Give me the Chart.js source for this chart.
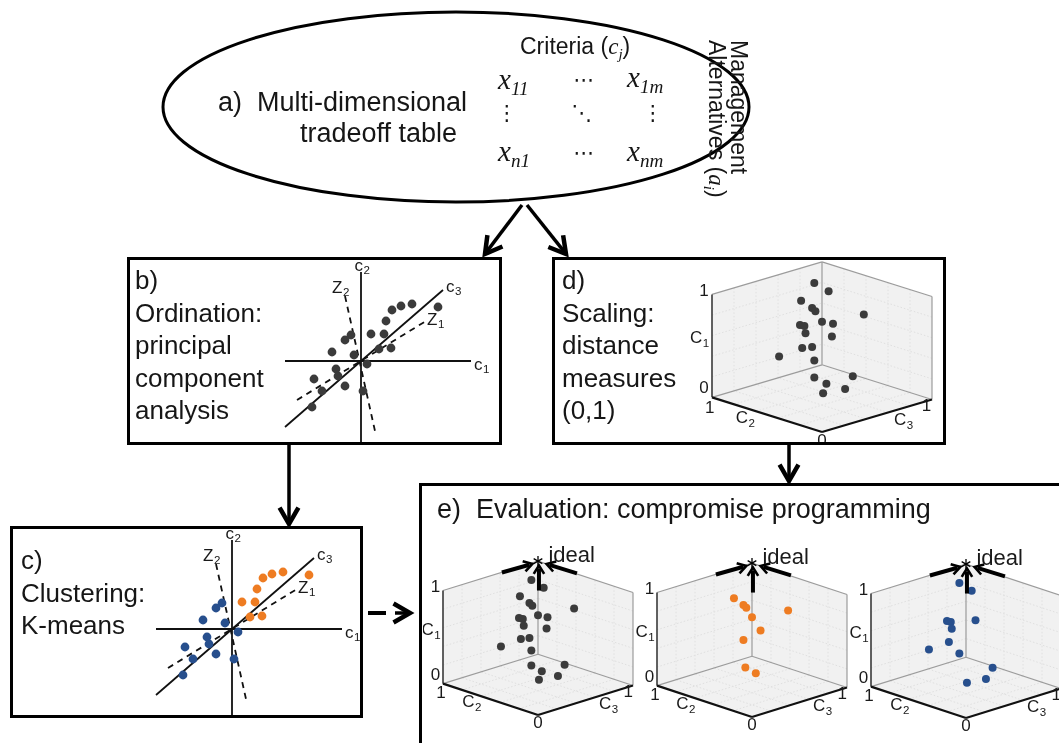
<!DOCTYPE html>
<html>
<head>
<meta charset="utf-8">
<title>Tradeoff analysis workflow</title>
<script src="https://cdn.jsdelivr.net/npm/chart.js@4.4.1/dist/chart.umd.min.js"></script>
<style>
  body { margin: 0; background: #fff; }
  #page { position: relative; width: 1059px; height: 743px; overflow: hidden; color: #161616;
          font-family: "Liberation Sans", Arial, sans-serif; }
  #page canvas { position: absolute; }
  #frame { position: absolute; left: 0; top: 0; }
  .txt { position: absolute; white-space: nowrap; font-size: 26px; line-height: 32.5px; }
  .mx { position: absolute; white-space: nowrap; font-family: "Liberation Serif", "DejaVu Serif", serif;
        font-style: italic; font-size: 29px; line-height: 34px; }
  .mx sub, .txt sub { font-size: 0.66em; vertical-align: -0.3em; line-height: 0; }
  .dots { position: absolute; font-family: "DejaVu Sans", sans-serif; font-size: 21px; line-height: 24px;
          transform: translate(-50%, -50%); }
  .it { font-family: "Liberation Serif", "DejaVu Serif", serif; font-style: italic; }
</style>
</head>
<body>
<div id="page">
  <canvas id="chartB"></canvas>
  <canvas id="chartC"></canvas>
  <canvas id="chartD"></canvas>
  <canvas id="chartE1"></canvas>
  <canvas id="chartE2"></canvas>
  <canvas id="chartE3"></canvas>

  <svg id="frame" width="1059" height="743">
    <ellipse cx="456" cy="107" rx="293" ry="95" fill="none" stroke="#000" stroke-width="3"/>
    <rect x="128.5" y="258.5" width="372" height="185" fill="none" stroke="#000" stroke-width="3"/>
    <rect x="553.5" y="258.5" width="391" height="185" fill="none" stroke="#000" stroke-width="3"/>
    <rect x="11.5" y="527.5" width="350" height="189" fill="none" stroke="#000" stroke-width="3"/>
    <rect x="420.5" y="484.5" width="700" height="300" fill="none" stroke="#000" stroke-width="3"/>
  </svg>

  <!-- a) -->
  <div class="txt" style="left:218px;top:86px;font-size:27px">a)&nbsp; Multi-dimensional</div>
  <div class="txt" style="left:300px;top:117px;font-size:27px">tradeoff table</div>
  <div class="txt" style="left:520px;top:30px;font-size:23px">Criteria (<span class="it">c<sub>j</sub></span>)</div>
  <div class="mx" style="left:498px;top:62px">x<sub>11</sub></div>
  <div class="mx" style="left:627px;top:60px">x<sub>1m</sub></div>
  <div class="mx" style="left:498px;top:134px">x<sub>n1</sub></div>
  <div class="mx" style="left:627px;top:134px">x<sub>nm</sub></div>
  <div class="dots" style="left:584px;top:80px">⋯</div>
  <div class="dots" style="left:584px;top:153px">⋯</div>
  <div class="dots" style="left:507px;top:113px">⋮</div>
  <div class="dots" style="left:582px;top:113px">⋱</div>
  <div class="dots" style="left:653px;top:113px">⋮</div>
  <div class="txt" style="left:750px;top:40px;font-size:23px;line-height:22px;transform-origin:0 0;transform:rotate(90deg)">Management<br>Alternatives (<span class="it">a<sub>i</sub></span>)</div>

  <!-- b) c) d) e) -->
  <div class="txt" style="left:135px;top:264px">b)<br>Ordination:<br>principal<br>component<br>analysis</div>
  <div class="txt" style="left:562px;top:264px">d)<br>Scaling:<br>distance<br>measures<br>(0,1)</div>
  <div class="txt" style="left:21px;top:544px">c)<br>Clustering:<br>K-means</div>
  <div class="txt" style="left:437px;top:493px;font-size:27px">e)&nbsp; Evaluation: compromise programming</div>
</div>

<script>
'use strict';

// ordination scores of the 21 management alternatives (panels b and c)
const pcaX = [3.1, 4.0, 5.1, 7.7, 2.5, 1.0, 2.3, 1.8, 3.0, -1.0, -1.6, -2.9, -0.7, 0.6, -2.5, -2.3, -4.7, -1.6, -3.9, 0.2, -4.9];
const pcaY = [5.1, 5.5, 5.7, 5.4, 4.0, 2.7, 2.7, 1.2, 1.3, 2.6, 2.1, 0.9, 0.6, -0.3, -0.8, -1.5, -1.8, -2.5, -3.0, -3.0, -4.6];
// k-means group of each alternative (1 = orange, 2 = blue)
const pcaCluster = [1, 1, 1, 1, 1, 1, 1, 1, 1, 2, 2, 2, 2, 2, 2, 2, 2, 2, 2, 2, 2];

// ordination axes as [x0, y0, x1, y1]
const axisC1 = [-7.6, 0, 11.0, 0];
const axisC2 = [0, 8.9, 0, -9.5];
const axisC3 = [-7.6, -6.6, 8.2, 7.1];
const axisZ1 = [-6.4, -3.9, 6.5, 4.0];
const axisZ2 = [-1.6, 6.5, 1.4, -7.0];
const axisNames = [['c', '1'], ['c', '2'], ['c', '3'], ['Z', '1'], ['Z', '2']];

// scaled alternatives in the 3-D view (d, e): position in the view plane
const viewU = [-0.07, 0.06, -0.19, -0.09, -0.06, 0.38, 0.00, 0.10, -0.20, -0.16, -0.15, 0.09, -0.09, -0.18, -0.39, -0.07, -0.07, 0.28, 0.04, 0.21, 0.01];
const viewV = [1.42, 1.34, 1.25, 1.18, 1.15, 1.12, 1.05, 1.03, 1.02, 1.01, 0.94, 0.91, 0.81, 0.80, 0.72, 0.68, 0.52, 0.53, 0.46, 0.41, 0.37];
const viewCluster = [2, 2, 1, 1, 1, 1, 1, 2, 2, 2, 2, 1, 1, 2, 2, 2, 1, 2, 1, 2, 2];
const cubeTicks = ['0', '1'];
const cubeAxes = [['C', '1'], ['C', '2'], ['C', '3']];
const idealText = 'ideal';

const GREY = '#3b3b3b';
const ORANGE = '#ee7c22';
const BLUE = '#274f8d';
const FONT = '"Liberation Sans", Arial, sans-serif';

// where each small plot sits on the page
const panelB = { left: 270, top: 260, w: 230, h: 182, ox: 361, oy: 361, ux: 10, uy: 10 };
const panelC = { left: 141, top: 529, w: 219, h: 186, ox: 232, oy: 629, ux: 10, uy: 10 };
const panelD = { left: 660, top: 260, w: 283, h: 182, ox: 822, oy: 432, ux: 110, uy: 105 };
const panelE1 = { left: 423, top: 528, w: 225, h: 215, ox: 538, oy: 715, ux: 95, uy: 95 };
const panelE2 = { left: 626, top: 528, w: 232, h: 215, ox: 752, oy: 717, ux: 95, uy: 95 };
const panelE3 = { left: 838, top: 528, w: 221, h: 215, ox: 966, oy: 718, ux: 95, uy: 95 };

function placeCanvas(id, p) {
  const c = document.getElementById(id);
  c.width = p.w;
  c.height = p.h;
  c.style.left = p.left + 'px';
  c.style.top = p.top + 'px';
  return c;
}

function baseOptions(p, pluginOpts) {
  return {
    responsive: false,
    animation: false,
    events: [],
    layout: { padding: 0, autoPadding: false },
    plugins: Object.assign({ legend: { display: false }, tooltip: { enabled: false } }, pluginOpts),
    scales: {
      x: { type: 'linear', display: false, min: (p.left - p.ox) / p.ux, max: (p.left + p.w - p.ox) / p.ux },
      y: { type: 'linear', display: false, min: (p.oy - p.top - p.h) / p.uy, max: (p.oy - p.top) / p.uy }
    }
  };
}

function drawSub(ctx, base, sub, px, py, size, align) {
  ctx.font = size + 'px ' + FONT;
  const w1 = ctx.measureText(base).width;
  ctx.font = (size * 0.68) + 'px ' + FONT;
  const w2 = ctx.measureText(sub).width;
  let x0 = px;
  if (align === 'right') x0 = px - w1 - w2;
  if (align === 'center') x0 = px - (w1 + w2) / 2;
  ctx.textAlign = 'left';
  ctx.textBaseline = 'middle';
  ctx.fillStyle = '#1a1a1a';
  ctx.font = size + 'px ' + FONT;
  ctx.fillText(base, x0, py);
  ctx.font = (size * 0.68) + 'px ' + FONT;
  ctx.fillText(sub, x0 + w1 + 0.5, py + size * 0.3);
}

// ---------- b) and c): ordination sketch ----------
const ordLabelPos = [
  { x: 11.3, y: -0.4, align: 'left' },
  { x: 0.1, y: 9.5, align: 'center' },
  { x: 8.5, y: 7.4, align: 'left' },
  { x: 6.6, y: 4.1, align: 'left' },
  { x: -2.9, y: 7.3, align: 'left' }
];

const ordLabels = {
  id: 'ordLabels',
  afterDatasetsDraw(chart) {
    const { ctx, scales: { x, y } } = chart;
    ctx.save();
    axisNames.forEach((n, i) => {
      const pos = ordLabelPos[i];
      drawSub(ctx, n[0], n[1], x.getPixelForValue(pos.x), y.getPixelForValue(pos.y), 17, pos.align);
    });
    ctx.restore();
  }
};

function ordinationChart(id, p, colorOf) {
  const lines = [axisC1, axisC2, axisC3, axisZ1, axisZ2];
  const dashed = [false, false, false, true, true];
  const datasets = [{
    label: 'alternatives',
    data: pcaX.map((v, i) => ({ x: v, y: pcaY[i] })),
    backgroundColor: pcaCluster.map(colorOf),
    borderWidth: 0,
    pointRadius: 4.4,
    order: 0
  }];
  lines.forEach((a, k) => datasets.push({
    data: [{ x: a[0], y: a[1] }, { x: a[2], y: a[3] }],
    showLine: true,
    fill: false,
    borderColor: '#111',
    borderWidth: 1.8,
    borderDash: dashed[k] ? [6, 5] : [],
    pointRadius: 0,
    order: 1
  }));
  return new Chart(placeCanvas(id, p), {
    type: 'scatter',
    data: { datasets },
    options: baseOptions(p, {}),
    plugins: [ordLabels]
  });
}

// ---------- d) and e): 3-D unit cube ----------
function proj(c1, c2, c3) {
  return { x: -c2 + c3, y: 0.33 * c2 + 0.31 * c3 + 0.98 * c1 };
}

function drawArrow(ctx, x1, y1, x2, y2) {
  const ang = Math.atan2(y2 - y1, x2 - x1);
  ctx.lineWidth = 4;
  ctx.beginPath();
  ctx.moveTo(x1, y1);
  ctx.lineTo(x2 - 3 * Math.cos(ang), y2 - 3 * Math.sin(ang));
  ctx.stroke();
  ctx.lineWidth = 2.6;
  ctx.beginPath();
  ctx.moveTo(x2 - 10 * Math.cos(ang - 0.55), y2 - 10 * Math.sin(ang - 0.55));
  ctx.lineTo(x2, y2);
  ctx.lineTo(x2 - 10 * Math.cos(ang + 0.55), y2 - 10 * Math.sin(ang + 0.55));
  ctx.stroke();
}

const cubePlugin = {
  id: 'cube',
  beforeDatasetsDraw(chart) {
    const { ctx, scales: { x, y } } = chart;
    const px = q => [x.getPixelForValue(q.x), y.getPixelForValue(q.y)];
    const path = pts => {
      ctx.beginPath();
      pts.forEach((q, i) => {
        const s = px(q);
        if (i) ctx.lineTo(s[0], s[1]); else ctx.moveTo(s[0], s[1]);
      });
    };
    const seg = (a, b) => { path([a, b]); ctx.stroke(); };
    ctx.save();
    // walls and floor
    ctx.fillStyle = '#f1f1f1';
    path([proj(0, 1, 0), proj(0, 1, 1), proj(1, 1, 1), proj(1, 1, 0)]); ctx.closePath(); ctx.fill();
    path([proj(0, 1, 1), proj(0, 0, 1), proj(1, 0, 1), proj(1, 1, 1)]); ctx.closePath(); ctx.fill();
    path([proj(0, 0, 0), proj(0, 1, 0), proj(0, 1, 1), proj(0, 0, 1)]); ctx.closePath(); ctx.fill();
    // dotted grid
    ctx.strokeStyle = '#e0e0e0';
    ctx.lineWidth = 1;
    ctx.setLineDash([1.5, 2]);
    [0.2, 0.4, 0.6, 0.8].forEach(t => {
      seg(proj(t, 1, 0), proj(t, 1, 1));
      seg(proj(0, 1, t), proj(1, 1, t));
      seg(proj(t, 0, 1), proj(t, 1, 1));
      seg(proj(0, t, 1), proj(1, t, 1));
      seg(proj(0, t, 0), proj(0, t, 1));
      seg(proj(0, 0, t), proj(0, 1, t));
    });
    ctx.setLineDash([]);
    // box edges
    ctx.strokeStyle = '#9c9c9c';
    ctx.lineWidth = 1.2;
    seg(proj(1, 1, 0), proj(1, 1, 1));
    seg(proj(1, 1, 1), proj(1, 0, 1));
    seg(proj(0, 1, 1), proj(1, 1, 1));
    seg(proj(0, 1, 0), proj(0, 1, 1));
    seg(proj(0, 1, 1), proj(0, 0, 1));
    seg(proj(0, 0, 1), proj(1, 0, 1));
    ctx.strokeStyle = '#3a3a3a';
    ctx.lineWidth = 1.6;
    seg(proj(0, 1, 0), proj(1, 1, 0));
    ctx.strokeStyle = '#111';
    ctx.lineWidth = 2.2;
    seg(proj(0, 0, 0), proj(0, 1, 0));
    seg(proj(0, 0, 0), proj(0, 0, 1));
    ctx.restore();
  },
  afterDatasetsDraw(chart, args, opts) {
    const { ctx, scales: { x, y } } = chart;
    const X = v => x.getPixelForValue(v);
    const Y = v => y.getPixelForValue(v);
    ctx.save();
    ctx.fillStyle = '#1a1a1a';
    ctx.textBaseline = 'middle';
    ctx.font = '17px ' + FONT;
    ctx.textAlign = 'right';
    ctx.fillText(cubeTicks[1], X(-1.03), Y(1.34));
    ctx.fillText(cubeTicks[0], X(-1.03), Y(0.42));
    ctx.textAlign = 'center';
    ctx.fillText(cubeTicks[1], X(-1.02), Y(0.23));
    ctx.fillText(cubeTicks[0], X(0), Y(-0.09));
    ctx.fillText(cubeTicks[1], X(0.95), Y(0.24));
    drawSub(ctx, cubeAxes[0][0], cubeAxes[0][1], X(-1.03), Y(0.89), 17, 'right');
    drawSub(ctx, cubeAxes[1][0], cubeAxes[1][1], X(-0.70), Y(0.13), 17, 'center');
    drawSub(ctx, cubeAxes[2][0], cubeAxes[2][1], X(0.74), Y(0.11), 17, 'center');
    if (opts.ideal) {
      const top = proj(1, 1, 1);
      ctx.strokeStyle = '#000';
      ctx.lineCap = 'butt';
      drawArrow(ctx, X(-0.38), Y(1.50), X(-0.06), Y(1.59));
      drawArrow(ctx, X(0.41), Y(1.49), X(0.09), Y(1.59));
      drawArrow(ctx, X(0.01), Y(1.31), X(0.01), Y(1.575));
      // asterisk marking the ideal point
      ctx.lineWidth = 1.3;
      const cx = X(top.x), cy = Y(top.y);
      for (let k = 0; k < 3; k++) {
        const a = Math.PI / 2 + k * Math.PI / 3;
        ctx.beginPath();
        ctx.moveTo(cx - 5 * Math.cos(a), cy - 5 * Math.sin(a));
        ctx.lineTo(cx + 5 * Math.cos(a), cy + 5 * Math.sin(a));
        ctx.stroke();
      }
      ctx.textAlign = 'left';
      ctx.textBaseline = 'alphabetic';
      ctx.font = '22px ' + FONT;
      ctx.fillText(idealText, X(0.11), Y(1.61));
    }
    ctx.restore();
  }
};

function cubeChart(id, p, groups, color, ideal) {
  const pts = [];
  viewU.forEach((u, i) => {
    if (groups.includes(viewCluster[i])) pts.push({ x: u, y: viewV[i] });
  });
  return new Chart(placeCanvas(id, p), {
    type: 'scatter',
    data: { datasets: [{ label: 'alternatives', data: pts, backgroundColor: color, borderWidth: 0, pointRadius: 4 }] },
    options: baseOptions(p, { cube: { ideal } }),
    plugins: [cubePlugin]
  });
}

ordinationChart('chartB', panelB, () => GREY);
ordinationChart('chartC', panelC, g => (g === 1 ? ORANGE : BLUE));
cubeChart('chartD', panelD, [1, 2], GREY, false);
cubeChart('chartE1', panelE1, [1, 2], GREY, true);
cubeChart('chartE2', panelE2, [1], ORANGE, true);
cubeChart('chartE3', panelE3, [2], BLUE, true);

// ---------- connecting arrows ----------
const svg = document.getElementById('frame');
const NS = 'http://www.w3.org/2000/svg';
function svgEl(tag, attrs) {
  const el = document.createElementNS(NS, tag);
  Object.keys(attrs).forEach(k => el.setAttribute(k, attrs[k]));
  svg.appendChild(el);
  return el;
}
function flowArrow(x1, y1, x2, y2) {
  const ang = Math.atan2(y2 - y1, x2 - x1);
  svgEl('line', { x1, y1, x2: x2 - 2 * Math.cos(ang), y2: y2 - 2 * Math.sin(ang), stroke: '#000', 'stroke-width': 3.5 });
  const L = 19, a = 0.52;
  const pts = [
    [x2 - L * Math.cos(ang - a), y2 - L * Math.sin(ang - a)],
    [x2, y2],
    [x2 - L * Math.cos(ang + a), y2 - L * Math.sin(ang + a)]
  ].map(q => q.join(',')).join(' ');
  svgEl('polyline', { points: pts, fill: 'none', stroke: '#000', 'stroke-width': 4.5, 'stroke-linejoin': 'miter' });
}
flowArrow(522, 205, 485, 254);
flowArrow(527, 205, 566, 254);
flowArrow(289, 445, 289, 524);
flowArrow(789, 445, 789, 481);
svgEl('line', { x1: 368, y1: 613, x2: 386, y2: 613, stroke: '#000', 'stroke-width': 4 });
flowArrow(395, 613, 410, 613);
</script>
</body>
</html>
